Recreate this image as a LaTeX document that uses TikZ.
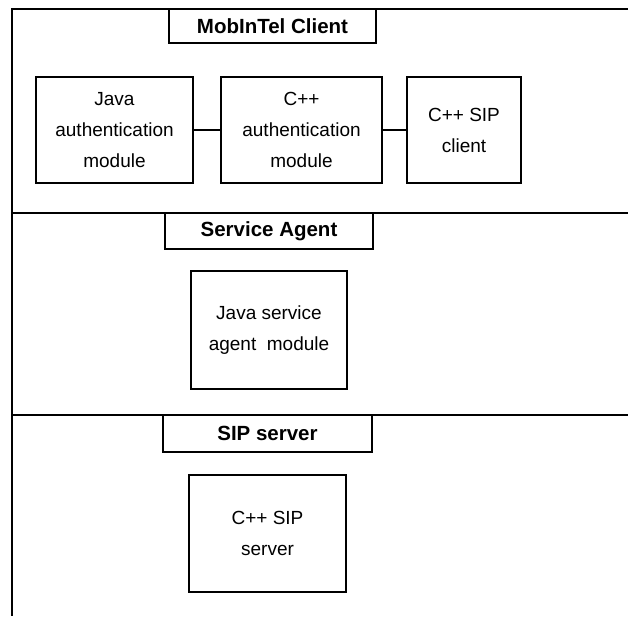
\documentclass[tikz,border=0pt]{standalone}
\usepackage{fontspec}
\setmainfont{Liberation Sans}

\tikzset{
	modbox/.style={draw, line width=1.8pt, inner sep=0pt, align=center, font=\fontsize{19}{31}\selectfont},
	titlebox/.style={draw, line width=1.8pt, inner sep=0pt, font=\fontsize{20.5}{24}\selectfont\bfseries},
	frame/.style={line width=1.8pt}
}

\begin{document}
\begin{tikzpicture}[x=1pt, y=-1pt]
	\useasboundingbox (0, 0) rectangle (628, 616);
	% layers
	\coordinate (tl) at (12, 9);
	\coordinate (tr) at (628, 9);
	\coordinate (bl) at (12, 616);
	\coordinate (s1l) at (12, 213);
	\coordinate (s1r) at (628, 213);
	\coordinate (s2l) at (12, 415);
	\coordinate (s2r) at (628, 415);
	\draw [frame] (tr) -- (tl) -- (bl);
	\draw [frame] (s1l) -- (s1r);
	\draw [frame] (s2l) -- (s2r);
	% client
	\node [titlebox, minimum width=207, minimum height=34] (client) at (272.5, 26) {MobInTel Client};
	\node [modbox, minimum width=157, minimum height=106] (javaauth) at (114.5, 130) {Java\\authentication\\module};
	\node [modbox, minimum width=161, minimum height=106] (cppauth) at (301.5, 130) {C++\\authentication\\module};
	\node [modbox, minimum width=114, minimum height=106] (sipclient) at (464, 130) {C++ SIP\\client};
	\draw [frame] (javaauth) -- (cppauth);
	\draw [frame] (cppauth) -- (sipclient);
	% agent
	\node [titlebox, minimum width=208, minimum height=36] (agent) at (269, 231) {Service Agent};
	\node [modbox, minimum width=156, minimum height=118] (agentmod) at (269, 330) {Java service\\agent~ module};
	% server
	\node [titlebox, minimum width=209, minimum height=37] (server) at (267.5, 433.5) {SIP server};
	\node [modbox, minimum width=157, minimum height=117] (sipserver) at (267.5, 533.5) {C++ SIP\\server};
\end{tikzpicture}
\end{document}
